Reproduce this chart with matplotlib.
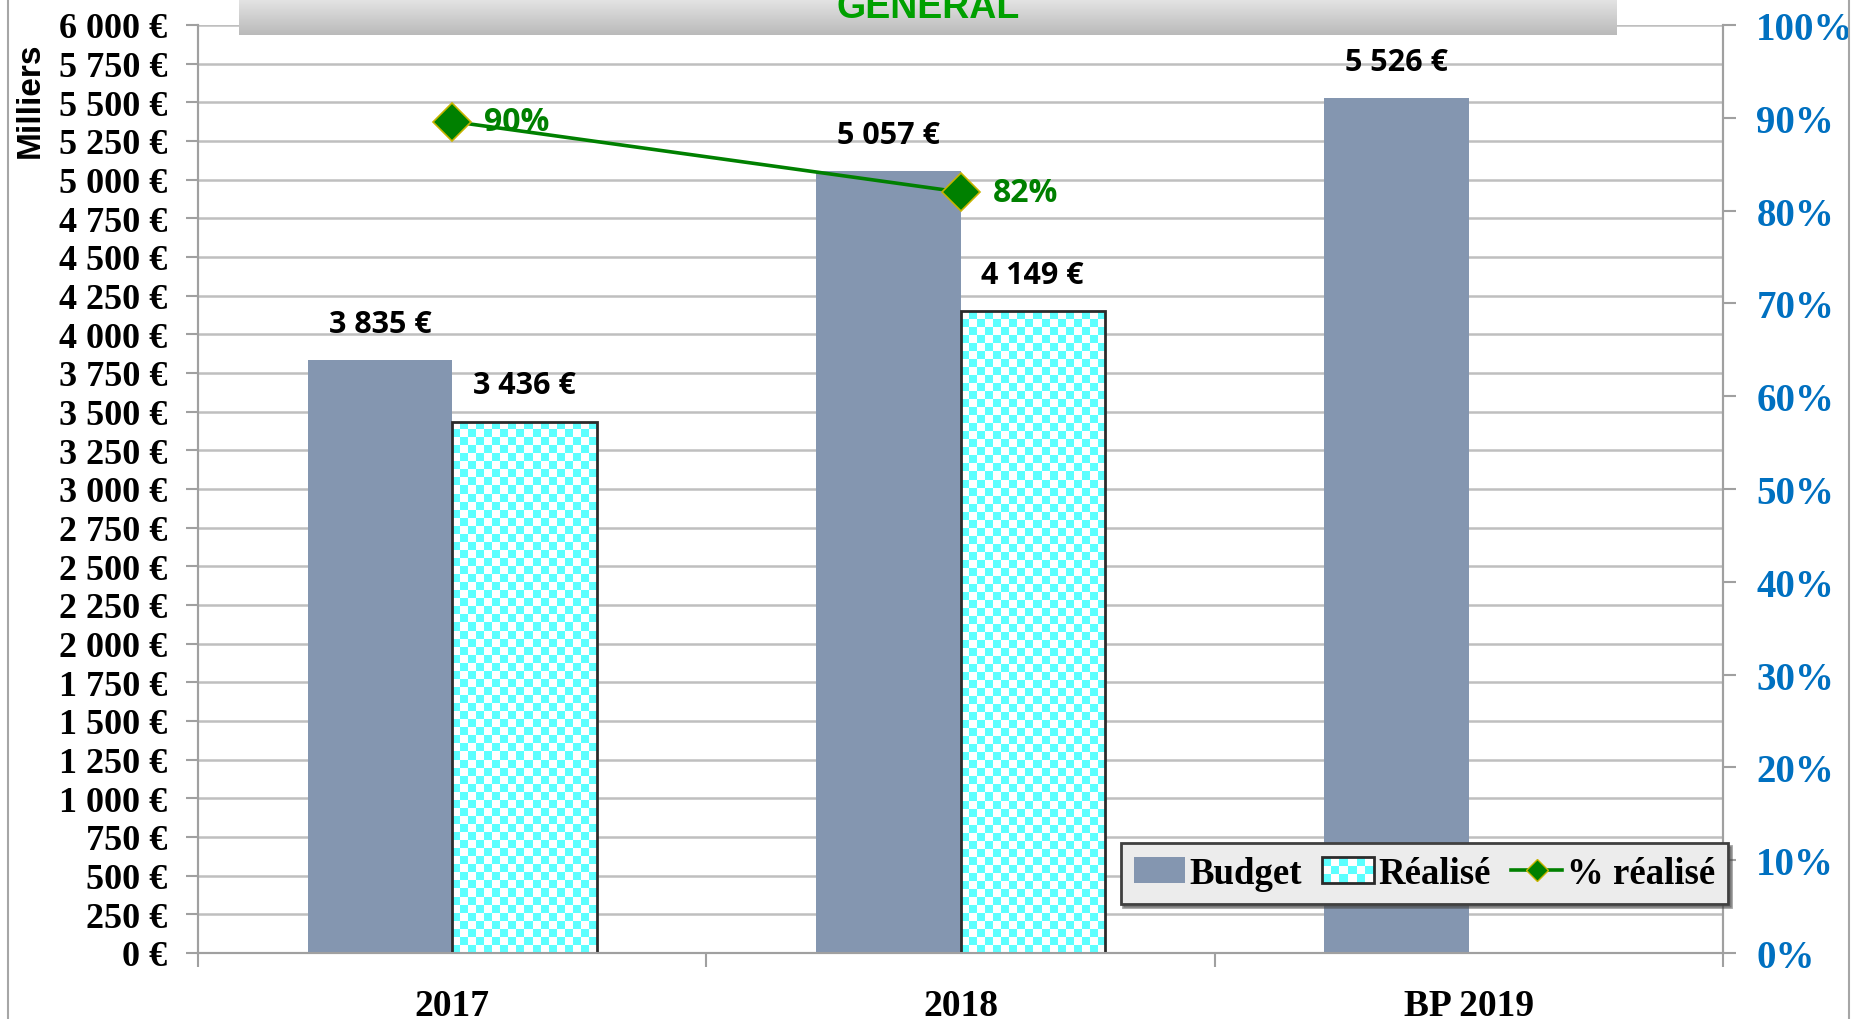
import matplotlib
matplotlib.use('Agg')
import matplotlib.pyplot as plt
import numpy as np
from matplotlib.patches import Rectangle
from matplotlib.lines import Line2D
from matplotlib.colors import ListedColormap, LinearSegmentedColormap
from matplotlib.legend_handler import HandlerBase
from matplotlib.ticker import FuncFormatter, MultipleLocator, PercentFormatter

# data (milliers d'euros)
categories = ['2017', '2018', 'BP 2019']
budget = [3835, 5057, 5526]
realise = [3436, 4149, np.nan]
pct_realise = [0.896, 0.820]      # 2017, 2018
yticks = list(range(0, 6001, 250))

BUDGET_COLOR = '#8496b0'
CHECK_COLOR = '#5cffff'
LINE_GREEN = '#008000'
PCT_BLUE = '#0070c0'
AXIS_GRAY = '#a0a0a0'
SERIF = ['Liberation Serif', 'DejaVu Serif']
SANS = ['Open Sans', 'DejaVu Sans']

plt.rcParams['font.family'] = SERIF
plt.rcParams['font.weight'] = 'bold'

W, H = 1853, 1020


def euro(v, pos=None):
    return f"{v:,.0f} €".replace(',', ' ')


class CheckerHandler(HandlerBase):
    # little checkerboard box for the "Réalisé" legend entry
    def create_artists(self, legend, orig_handle, xdescent, ydescent,
                       width, height, fontsize, trans):
        x0, y0 = -xdescent, -ydescent
        arts = [Rectangle((x0, y0), width, height, facecolor='white',
                          edgecolor='none', transform=trans)]
        nx, ny = 6, 3
        sw, sh = width / nx, height / ny
        for i in range(nx):
            for j in range(ny):
                if (i + j) % 2 == 0:
                    arts.append(Rectangle((x0 + i * sw, y0 + j * sh), sw, sh,
                                          facecolor=CHECK_COLOR, edgecolor='none',
                                          transform=trans))
        arts.append(Rectangle((x0, y0), width, height, facecolor='none',
                              edgecolor='#2b2b2b', lw=2, transform=trans))
        return arts


fig = plt.figure(figsize=(W / 100, H / 100), dpi=100)
ax = fig.add_axes([198 / W, 1 - 954 / H, (1723 - 198) / W, (954 - 26) / H])

x = np.arange(len(categories))
bw = 0.284
XLIM = (-0.5, len(categories) - 0.5)
YLIM = (0, 6000)

b1 = ax.bar(x - bw / 2, budget, bw, color=BUDGET_COLOR, zorder=3)
b2 = ax.bar(x + bw / 2, realise, bw, facecolor='none', edgecolor='#2b2b2b',
            linewidth=2, zorder=3)
ax.set_xlim(*XLIM)
ax.set_ylim(*YLIM)

# checkerboard fill inside the Réalisé bars
cell = 8  # px
cmap_check = ListedColormap(['white', CHECK_COLOR])
for bar in b2:
    h = bar.get_height()
    if np.isnan(h):
        continue
    x0 = bar.get_x()
    x1 = x0 + bar.get_width()
    p0 = ax.transData.transform((x0, 0))
    p1 = ax.transData.transform((x1, h))
    nx = max(1, int(round((p1[0] - p0[0]) / cell)))
    ny = max(1, int(round((p1[1] - p0[1]) / cell)))
    board = np.add.outer(np.arange(ny), np.arange(nx)) % 2
    im = ax.imshow(board, extent=(x0, x1, 0, h), cmap=cmap_check, aspect='auto',
                   interpolation='nearest', zorder=2.9)
    im.set_clip_path(bar)

ax.set_xlim(*XLIM)
ax.set_ylim(*YLIM)

# grid / axes
ax.set_yticks(yticks)
ax.yaxis.set_major_formatter(FuncFormatter(euro))
ax.yaxis.grid(True, color='#bfbfbf', lw=1.8)
ax.set_axisbelow(True)
ax.tick_params(axis='y', length=9, width=1.5, color=AXIS_GRAY, pad=13, labelsize=26)

ax.set_xticks(x)
ax.set_xticklabels(categories)
ax.set_xticks([-0.5, 0.5, 1.5, 2.5], minor=True)
ax.tick_params(axis='x', which='major', length=0, pad=25, labelsize=27)
ax.tick_params(axis='x', which='minor', length=10, width=1.5, color=AXIS_GRAY)

for s in ['left', 'right', 'bottom']:
    ax.spines[s].set_color(AXIS_GRAY)
    ax.spines[s].set_linewidth(1.5)
ax.spines['top'].set_visible(False)

# data labels
for xi, v in zip(x - bw / 2, budget):
    ax.annotate(euro(v), (xi, v), xytext=(0, 26), textcoords='offset points',
                ha='center', va='center', fontsize=22, family=SANS, fontweight='bold')
for xi, v in zip(x + bw / 2, realise):
    if np.isnan(v):
        continue
    ax.annotate(euro(v), (xi, v), xytext=(0, 26), textcoords='offset points',
                ha='center', va='center', fontsize=22, family=SANS, fontweight='bold')

# secondary axis: % réalisé
ax2 = ax.twinx()
ax2.set_ylim(0, 1)
ax2.yaxis.set_major_locator(MultipleLocator(0.1))
ax2.yaxis.set_major_formatter(PercentFormatter(1.0, decimals=0))
ax2.tick_params(axis='y', length=9, width=1.5, color=AXIS_GRAY, pad=15,
                labelsize=28, labelcolor=PCT_BLUE)
for s in ['left', 'right', 'bottom']:
    ax2.spines[s].set_color(AXIS_GRAY)
    ax2.spines[s].set_linewidth(1.5)
ax2.spines['top'].set_visible(False)

xp = x[:len(pct_realise)]
ax2.plot(xp, pct_realise, color=LINE_GREEN, lw=2.6, marker='D', ms=19,
         mfc=LINE_GREEN, mec='#c8b400', mew=1.2, zorder=5)
for xi, p in zip(xp, pct_realise):
    ax2.annotate(f"{p:.0%}", (xi, p), xytext=(23, 0), textcoords='offset points',
                 ha='left', va='center', fontsize=23, family=SANS,
                 fontweight='bold', color=LINE_GREEN)

# legend
h_budget = Rectangle((0, 0), 1, 1, facecolor=BUDGET_COLOR)
h_real = Rectangle((0, 0), 1, 1)
h_line = Line2D([], [], color=LINE_GREEN, lw=2.6, marker='D', ms=11,
                mfc=LINE_GREEN, mec='#c8b400')
leg = ax2.legend([h_budget, h_real, h_line], ['Budget', 'Réalisé', '% réalisé'],
                 handler_map={h_real: CheckerHandler()},
                 loc='lower right', bbox_to_anchor=(1.0033, 0.053), ncol=3,
                 fontsize=26.5, frameon=True, fancybox=False, shadow=True,
                 edgecolor='#404040', facecolor='#ececec', framealpha=1,
                 handlelength=1.4, handletextpad=0.12, columnspacing=0.55,
                 borderpad=0.35, borderaxespad=0)
leg.get_frame().set_linewidth(2)

# Milliers label
fig.text(30 / W, 1 - 100 / H, 'Milliers', rotation=90, ha='center', va='center',
         family=['Liberation Sans', 'DejaVu Sans'], fontsize=24, fontweight='bold')

# title banner (cut at top)
tax = fig.add_axes([239 / W, 1 - 36 / H, (1617 - 239) / W, 36 / H])
grad = np.linspace(0, 1, 50).reshape(-1, 1)
tax.imshow(grad, cmap=LinearSegmentedColormap.from_list('g', ['#e4e4e4', '#bababa']),
           aspect='auto', extent=(0, 1, 0, 1))
tax.axis('off')
tax.text(0.5, 0.5, 'GENERAL', transform=tax.transAxes, ha='center', va='baseline',
         color='#00a000', fontsize=27, fontweight='bold',
         family=['Liberation Sans', 'DejaVu Sans'])

# outer frame lines
fig.add_artist(Line2D([8 / W, 8 / W], [0, 1], color='#a6a6a6', lw=1.5))
fig.add_artist(Line2D([1849 / W, 1849 / W], [0, 1], color='#a6a6a6', lw=1.5))

fig.savefig('out.png', dpi=100)
